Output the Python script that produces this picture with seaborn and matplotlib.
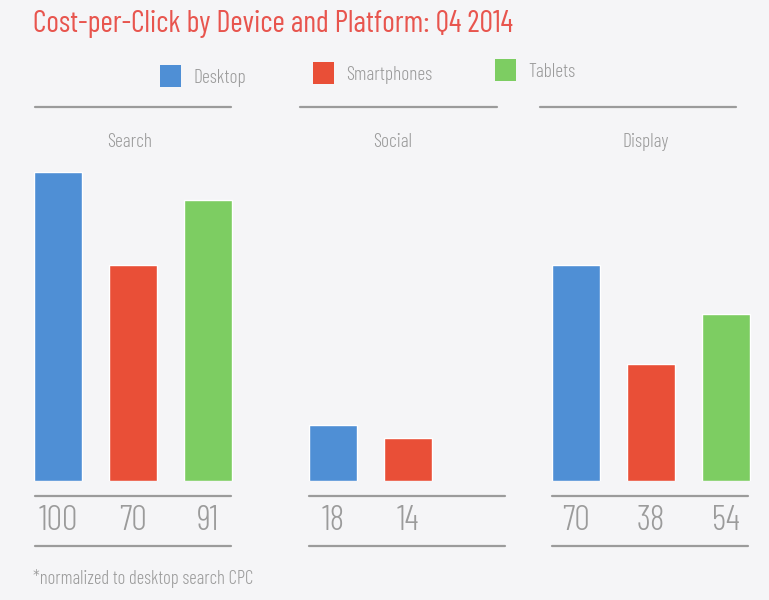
import pandas as pd
import matplotlib
matplotlib.use('Agg')
import matplotlib.pyplot as plt
import matplotlib.transforms as mtransforms
from matplotlib.lines import Line2D
from matplotlib.patches import Patch
import seaborn as sns

devices = ['Desktop', 'Smartphones', 'Tablets']
platforms = ['Search', 'Social', 'Display']
search_cpc = [100, 70, 91]
social_cpc = [18, 14]
display_cpc = [70, 38, 54]

colors = {'Desktop': '#4F8FD5', 'Smartphones': '#E94F37', 'Tablets': '#7DCD62'}
grey = '#9b9b9b'
bg = '#F5F5F7'

sns.set_theme(style='white')
plt.rcParams['font.family'] = ['Barlow Condensed', 'DejaVu Sans']

fig = plt.figure(figsize=(7.69, 6.0), dpi=100, facecolor=bg)


def fx(px):
    return px / 769


def fy(py):
    return 1 - py / 600


panel_values = [search_cpc, social_cpc, display_cpc]
# bar centre of first bar, top rule span, bottom rule span (pixels)
first_centre = [58, 333, 576]
top_rule = [(35, 231), (300, 497), (540, 736)]
bottom_rule = [(35, 231), (309, 505), (552, 748)]
label_x = [130, 393, 646]

for name, vals, c0, tr, br, lx in zip(platforms, panel_values, first_centre,
                                       top_rule, bottom_rule, label_x):
    df = pd.DataFrame({'device': devices[:len(vals)], 'cpc': vals})
    ax = fig.add_axes([fx(c0 - 37.5), fy(481), 225 / 769, 309 / 600])
    sns.barplot(data=df, x='device', y='cpc', hue='device', order=devices,
                hue_order=devices, palette=colors, width=0.64, legend=False,
                saturation=1, ax=ax)
    ax.set_xlim(-0.5, 2.5)
    ax.set_ylim(0, 100)
    ax.axis('off')

    trans = mtransforms.blended_transform_factory(ax.transData, fig.transFigure)
    for i, v in enumerate(vals):
        ax.text(i, fy(521), str(v), transform=trans, ha='center', va='center',
                fontsize=25, fontweight=300, color=grey)

    fig.add_artist(Line2D([fx(tr[0]), fx(tr[1])], [fy(107)] * 2, color=grey, lw=1.6))
    fig.add_artist(Line2D([fx(br[0]), fx(br[1])], [fy(496)] * 2, color=grey, lw=1.6))
    fig.add_artist(Line2D([fx(br[0]), fx(br[1])], [fy(546)] * 2, color=grey, lw=1.6))
    fig.text(fx(lx), fy(142), name, ha='center', va='center', fontsize=14,
             fontweight=300, color=grey)

fig.text(fx(33), fy(24), 'Cost-per-Click by Device and Platform: Q4 2014',
         ha='left', va='center', fontsize=21.7, color='#E8554E')

# legend entries sit slightly staggered in the original
legend_x = [142, 295, 477]
legend_y = [76, 73, 70]
for d, lx_, ly_ in zip(devices, legend_x, legend_y):
    leg = fig.legend([Patch(facecolor=colors[d], edgecolor='none')], [d],
                     loc='center left', bbox_to_anchor=(fx(lx_), fy(ly_)),
                     frameon=False, fontsize=14, labelcolor=grey,
                     handlelength=1.1, handleheight=1.3, handletextpad=0.65)
    for t in leg.get_texts():
        t.set_fontweight(300)

fig.text(fx(33), fy(578), '*normalized to desktop search CPC', ha='left', va='center',
         fontsize=13.5, fontweight=300, color=grey)

fig.savefig('out.png', dpi=100, facecolor=bg)
